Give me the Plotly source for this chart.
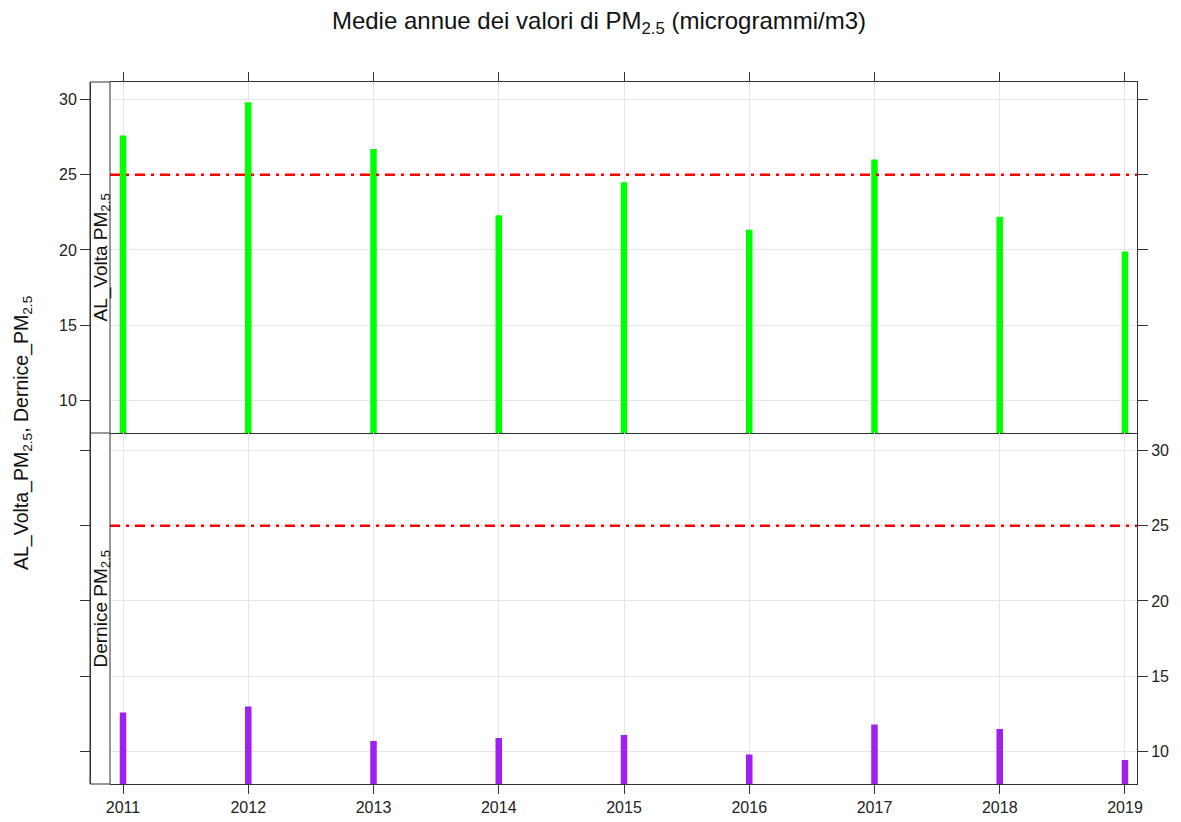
import plotly.graph_objects as go

years = [2011, 2012, 2013, 2014, 2015, 2016, 2017, 2018, 2019]
al_volta = [27.6, 29.8, 26.7, 22.3, 24.5, 21.35, 26.0, 22.2, 19.9]
dernice = [12.6, 13.0, 10.7, 10.9, 11.1, 9.8, 11.8, 11.5, 9.45]
limit_value = 25
y_ticks = [10, 15, 20, 25, 30]
title_text = "Medie annue dei valori di PM<sub>2.5</sub> (microgrammi/m3)"
ylab_text = "AL_Volta_PM<sub>2.5</sub>, Dernice_PM<sub>2.5</sub>"
strip_top = "AL_Volta PM<sub>2.5</sub>"
strip_bottom = "Dernice PM<sub>2.5</sub>"

W, H = 1181, 822
ML, MR, MT, MB = 90, 44, 82, 38
PW = W - ML - MR
XD0 = 20 / PW
YR = [7.85, 31.15]
XR = [2010.896, 2019.096]
FONT = "Liberation Sans, Arial, sans-serif"
AX = "#333333"
GRID = "#e6e6e6"

fig = go.Figure()
fig.add_trace(go.Bar(x=years, y=al_volta, width=0.052, marker=dict(color="#00FF00", line=dict(width=0)),
                     xaxis="x", yaxis="y", showlegend=False))
fig.add_trace(go.Bar(x=years, y=dernice, width=0.052, marker=dict(color="#A020F0", line=dict(width=0)),
                     xaxis="x2", yaxis="y2", showlegend=False))

tickfont = dict(family=FONT, size=16, color="#222222")
common_x = dict(range=XR, tickvals=years, ticks="outside", ticklen=9, tickcolor=AX,
                showgrid=True, gridcolor=GRID, gridwidth=1, showline=True, linecolor=AX,
                linewidth=1, zeroline=False, tickfont=tickfont, domain=[XD0, 1])
common_y = dict(range=YR, tickvals=y_ticks, ticks="outside", ticklen=10, tickcolor=AX,
                showline=True, linecolor=AX, linewidth=1, zeroline=False, tickfont=tickfont)

fig.update_layout(
    width=W, height=H,
    margin=dict(l=ML, r=MR, t=MT, b=MB, autoexpand=False),
    paper_bgcolor="white", plot_bgcolor="white",
    barmode="overlay",
    title=dict(text=title_text, x=599 / W, xref="container", xanchor="center", y=1 - 21 / H,
               yanchor="middle", font=dict(family=FONT, size=24, color="#111111")),
    xaxis=dict(**common_x, anchor="y", side="top", showticklabels=False, mirror=True),
    xaxis2=dict(**common_x, anchor="y2", side="bottom", showticklabels=True, mirror=False),
    yaxis=dict(**common_y, domain=[0.5, 1], anchor="free", position=0, side="left",
               showgrid=True, gridcolor=GRID, showticklabels=True),
    yaxis3=dict(**common_y, overlaying="y", anchor="x", side="right", showgrid=False,
                showticklabels=False),
    yaxis2=dict(**common_y, domain=[0, 0.5], anchor="x2", side="right", showgrid=True,
                gridcolor=GRID, showticklabels=True),
    yaxis4=dict(**common_y, overlaying="y2", anchor="free", position=0, side="left",
                showgrid=False, showticklabels=False),
)

# invisible traces to activate overlay axes
fig.add_trace(go.Scatter(x=[years[0]], y=[y_ticks[0]], xaxis="x", yaxis="y3", mode="markers",
                         marker=dict(opacity=0), showlegend=False, hoverinfo="skip"))
fig.add_trace(go.Scatter(x=[years[0]], y=[y_ticks[0]], xaxis="x2", yaxis="y4", mode="markers",
                         marker=dict(opacity=0), showlegend=False, hoverinfo="skip"))

# reference limit lines
for xr, yr in (("x domain", "y"), ("x2 domain", "y2")):
    fig.add_shape(type="line", xref=xr, yref=yr, x0=0, x1=1, y0=limit_value, y1=limit_value,
                  line=dict(color="#FF0000", width=2.5, dash="10px,6px,3px,6px"), layer="above")

# strip column box
fig.add_shape(type="rect", xref="paper", yref="paper", x0=0, x1=XD0, y0=0, y1=1,
              line=dict(color=AX, width=1), fillcolor="rgba(0,0,0,0)", layer="above")
fig.add_shape(type="line", xref="paper", yref="paper", x0=0, x1=XD0, y0=0.5, y1=0.5,
              line=dict(color=AX, width=1), layer="above")

stripfont = dict(family=FONT, size=19, color="#111111")
fig.add_annotation(text=strip_top, xref="paper", yref="paper", x=11 / PW, y=0.75, textangle=-90,
                   showarrow=False, font=stripfont, xanchor="center", yanchor="middle")
fig.add_annotation(text=strip_bottom, xref="paper", yref="paper", x=11 / PW, y=0.25, textangle=-90,
                   showarrow=False, font=stripfont, xanchor="center", yanchor="middle")
fig.add_annotation(text=ylab_text, xref="paper", yref="paper", x=(22 - ML) / PW, y=0.5,
                   textangle=-90, showarrow=False, font=dict(family=FONT, size=19.5, color="#111111"),
                   xanchor="center", yanchor="middle")

fig.write_html("out.html", config={"displayModeBar": False},
               post_script="document.body.style.margin='0px';document.body.style.overflow='hidden';")
